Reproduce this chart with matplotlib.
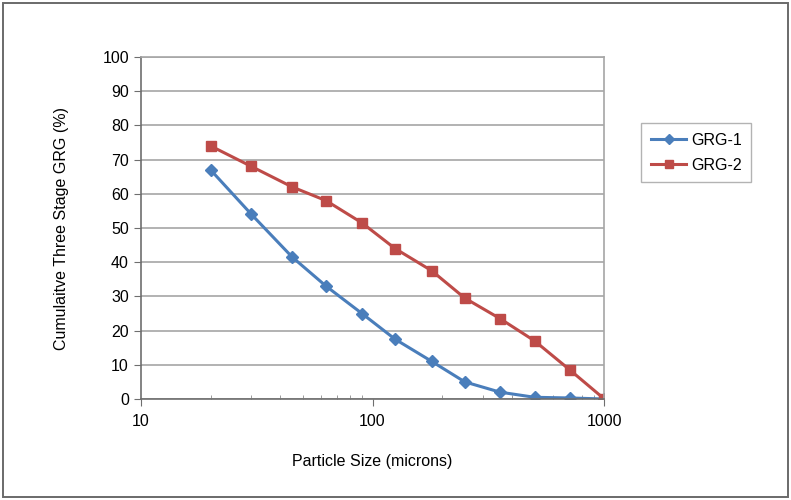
import matplotlib.pyplot as plt
from matplotlib.patches import Rectangle
from matplotlib.ticker import FixedLocator, NullFormatter

plt.rcParams['font.family'] = ['Liberation Sans', 'DejaVu Sans']

# particle sizes (microns)
sizes = [20, 30, 45, 63, 90, 125, 180, 250, 355, 500, 710, 1000]
grg1 = [67, 54, 41.5, 33, 25, 17.5, 11, 5, 2, 0.5, 0.3, 0]
grg2 = [74, 68, 62, 58, 51.5, 44, 37.5, 29.5, 23.5, 17, 8.5, 0]
y_ticks = list(range(0, 101, 10))
x_ticks = [10, 100, 1000]

fig = plt.figure(figsize=(7.91, 5), dpi=100)
fig.patches.append(Rectangle((0.004, 0.006), 0.992, 0.988, transform=fig.transFigure,
                             fill=False, edgecolor='#6a6a6a', linewidth=1.4))
ax = fig.add_axes([0.178, 0.202, 0.586, 0.684])

ax.plot(sizes, grg1, color='#4a7ebb', linewidth=2.2, marker='D', markersize=6,
        label='GRG-1')
ax.plot(sizes, grg2, color='#be4b48', linewidth=2.2, marker='s', markersize=7,
        label='GRG-2')

ax.set_xscale('log')
ax.set_xlim(10, 1000)
ax.set_ylim(0, 100)
ax.set_yticks(y_ticks)
ax.set_xticks(x_ticks)
ax.set_xticklabels([str(t) for t in x_ticks])
ax.xaxis.set_minor_locator(FixedLocator([m * d for d in (10, 100) for m in range(2, 10)]))
ax.xaxis.set_minor_formatter(NullFormatter())
ax.grid(axis='y', color='#a6a6a6', linewidth=1.2)
ax.set_axisbelow(True)

for side in ('top', 'right'):
    ax.spines[side].set_color('#a6a6a6')
    ax.spines[side].set_linewidth(1.2)
for side in ('left', 'bottom'):
    ax.spines[side].set_color('#6e6e6e')
    ax.spines[side].set_linewidth(1.2)

ax.tick_params(axis='both', which='major', labelsize=11.5, color='#6e6e6e',
               direction='out', length=5)
ax.tick_params(axis='x', which='major', pad=6)
ax.tick_params(axis='x', which='minor', direction='in', length=3, color='#8a8a8a')

ax.set_xlabel('Particle Size (microns)', fontsize=11.5, labelpad=18)
ax.set_ylabel('Cumulaitve Three Stage GRG (%)', fontsize=11.5, labelpad=24)

leg = ax.legend(loc='center left', bbox_to_anchor=(1.08, 0.72), fontsize=11.5,
                frameon=True, fancybox=False, edgecolor='#a0a0a0',
                handlelength=2.2, handletextpad=0.3, borderpad=0.6,
                labelspacing=0.6, markerscale=0.8, borderaxespad=0)
leg.get_frame().set_linewidth(1.0)

fig.savefig('out.png', dpi=100)
